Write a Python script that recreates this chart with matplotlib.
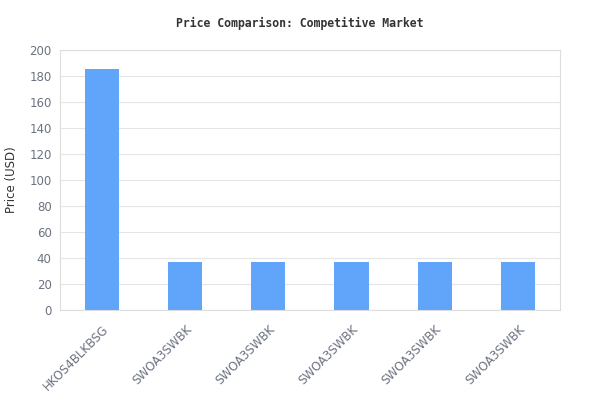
import matplotlib
matplotlib.use("Agg")
from matplotlib import pyplot as plt

products = ["HKOS4BLKBSG", "SWOA3SWBK", "SWOA3SWBK", "SWOA3SWBK", "SWOA3SWBK", "SWOA3SWBK"]
prices = [185.5, 37, 37, 37, 37, 37]
y_ticks = [0, 20, 40, 60, 80, 100, 120, 140, 160, 180, 200]

fig = plt.figure(figsize=(6, 4.2), dpi=100)
ax = fig.add_axes([0.1, 0.262, 0.833, 0.619])

positions = list(range(len(products)))
ax.bar(positions, prices, width=0.41, color="#60a5fa", zorder=3)

ax.set_xlim(-0.5, len(products) - 0.5)
ax.set_ylim(0, 200)
ax.set_yticks(y_ticks)
ax.set_xticks(positions)
ax.set_xticklabels(products, rotation=45, ha="right", rotation_mode="anchor")

ax.grid(axis="y", color="#e5e5e5", linewidth=0.8, zorder=0)
for spine in ax.spines.values():
    spine.set_color("#dddddd")
ax.tick_params(axis="both", length=0, colors="#6b7280", labelsize=8.5, pad=6)
ax.tick_params(axis="x", pad=9)

ax.set_ylabel("Price (USD)", fontsize=8.5, color="#333333", labelpad=8)
fig.suptitle("Price Comparison: Competitive Market", y=0.96,
             fontsize=8.3, fontweight="bold", family="DejaVu Sans Mono", color="#333333")

fig.savefig("out.png", dpi=100)
